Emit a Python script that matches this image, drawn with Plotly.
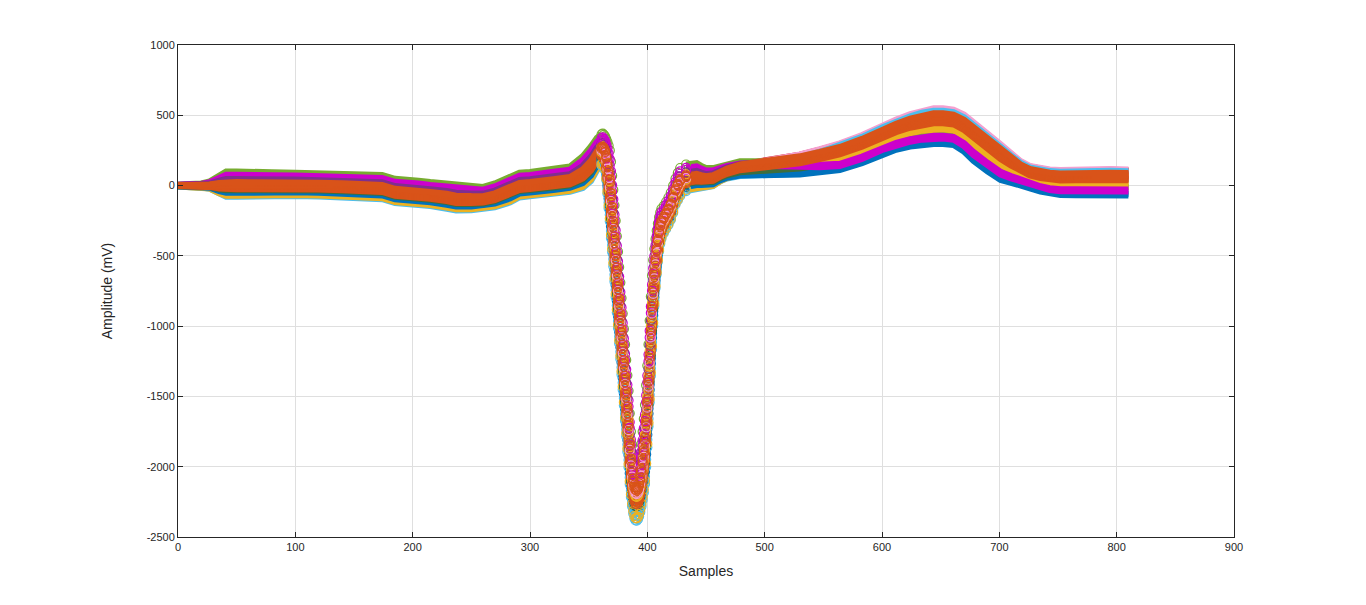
import plotly.graph_objects as go

# Anchor sample positions and the read upper / lower envelopes of the beat band (mV)
SAMPLES = [0, 10, 20, 27, 35, 41, 50, 60, 80, 100, 120, 140, 160, 174, 185, 195, 205, 215, 229, 237,
           250, 260, 270, 283, 291, 300, 308, 320, 334, 345, 352, 357,
           361, 362, 363, 364, 365, 366, 367, 368, 369, 370, 371, 372, 373, 374, 375, 376, 377, 378,
           379, 380, 381, 382, 383, 384, 385, 386, 387, 388, 389, 390, 391, 392, 393, 394, 395, 396,
           397, 398, 399, 400, 401, 402, 403, 404, 405, 406, 407, 408, 409, 410, 411, 412, 414, 416,
           418, 420, 422, 424, 426, 428,
           433, 438, 442, 446, 450, 456, 462, 468, 479, 490, 500, 513, 530, 547, 564, 583, 601, 612,
           624, 634, 644, 652, 661, 670, 678, 690, 701, 710, 718, 726, 735, 743, 752, 765, 780, 795, 810]
UPPER = [8, 10, 15, 30, 75, 100, 100, 95, 95, 92, 88, 85, 80, 75, 48, 45, 35, 25, 16, 2,
         -5, -10, 15, 63, 92, 97, 110, 120, 135, 210, 280, 340,
         365, 370, 360, 350, 330, 310, 285, 250, 170, 70, -30, -140, -250, -360, -470, -580, -690, -800,
         -910, -1020, -1130, -1240, -1350, -1460, -1620, -1750, -1845, -1915, -1960, -1985, -1995, -1985, -1955, -1905, -1835, -1750,
         -1660, -1560, -1420, -1280, -1130, -960, -790, -640, -530, -450, -380, -320, -270, -225, -190, -165, -145, -115,
         -85, -50, 0, 50, 90, 125,
         150, 160, 160, 140, 125, 130, 150, 170, 200, 212, 220, 230, 245, 270, 301, 360, 431, 470,
         509, 535, 550, 550, 540, 505, 455, 370, 295, 230, 175, 140, 123, 115, 111, 115, 120, 118, 115]
LOWER = [-8, -10, -15, -25, -65, -85, -85, -82, -80, -79, -82, -88, -95, -102, -130, -138, -140, -150, -170, -182,
         -180, -173, -160, -126, -90, -82, -72, -65, -50, -25, 25, 100,
         135, 140, 125, 100, 30, -70, -175, -270, -390, -490, -590, -700, -810, -920, -1030, -1140, -1250, -1360,
         -1470, -1580, -1690, -1800, -1910, -2020, -2140, -2230, -2295, -2345, -2380, -2395, -2395, -2385, -2365, -2335, -2295, -2250,
         -2200, -2140, -2020, -1880, -1730, -1560, -1370, -1180, -1010, -870, -740, -640, -550, -475, -420, -385, -345, -315,
         -285, -250, -200, -140, -110, -80,
         -45, -35, -31, -25, -20, -15, 15, 35, 52, 55, 55, 70, 70, 90, 111, 160, 225, 255,
         277, 290, 296, 296, 289, 240, 175, 100, 40, 20, 4, -20, -43, -58, -67, -68, -67, -68, -70]

# Beats (in drawing order): colour and relative position inside the band before / after the QRS complex
BEAT_COLORS = ["#D01010", "#A2142F", "#F4A0D0", "#A0A0A0", "#4DBEEE", "#4DBEEE", "#EDB120", "#0072BD",
               "#0072BD", "#3D6E3D", "#77AC30", "#EDB120", "#EDB120", "#CC00CC", "#CC00CC", "#7E2F8E",
               "#D95319", "#D95319", "#D95319", "#D95319", "#D95319", "#D95319", "#D95319", "#D95319"]
POS_EARLY = [0.55, 0.50, 0.50, 0.40, 0.03, 0.12, 0.07, 0.18, 0.24, 0.28, 1.00, 0.64, 0.45, 0.88, 0.80, 0.71,
             0.32, 0.36, 0.40, 0.44, 0.48, 0.52, 0.56, 0.60]
POS_LATE = [0.97, 0.94, 1.00, 0.90, 0.93, 0.06, 0.45, 0.00, 0.06, 0.30, 0.33, 0.41, 0.50, 0.23, 0.15, 0.62,
            0.58, 0.62, 0.66, 0.70, 0.74, 0.78, 0.82, 0.86]
# drawing order of the individual circles inside the QRS complex (beat indices)
QRS_ORDER = [7, 8, 4, 5, 9, 3, 6, 0, 16, 10, 17, 13, 18, 11, 1, 19, 15, 20, 12, 21, 14, 2, 22, 23]
MIX_START, MIX_END = 450, 560
QRS_START, QRS_END = 361, 433

X_TICKS = [0, 100, 200, 300, 400, 500, 600, 700, 800, 900]
Y_TICKS = [-2500, -2000, -1500, -1000, -500, 0, 500, 1000]
Y_TICK_TEXT = ["-2500", "-2000", "-1500", "-1000", "-500", "0", "500", "1000"]

fig = go.Figure()
beats = []
for color, fe, fl in zip(BEAT_COLORS, POS_EARLY, POS_LATE):
    ys = []
    for s, up, lo in zip(SAMPLES, UPPER, LOWER):
        w = min(max((s - MIX_START) / (MIX_END - MIX_START), 0.0), 1.0)
        f = fe * (1 - w) + fl * w
        ys.append(lo + f * (up - lo))
    beats.append((color, ys))

# smooth parts of the beats: dense markers merge into thick bands
for color, ys in beats:
    for lo_s, hi_s in ((0, QRS_START), (QRS_END, SAMPLES[-1])):
        xs = [s for s in SAMPLES if lo_s <= s <= hi_s]
        yv = [y for s, y in zip(SAMPLES, ys) if lo_s <= s <= hi_s]
        fig.add_trace(go.Scatter(x=xs, y=yv, mode="lines",
                                 line=dict(color=color, width=6),
                                 showlegend=False, hoverinfo="skip"))

# QRS part: the individual circle markers are visible
for k in QRS_ORDER:
    color, ys = beats[k]
    xs = [s for s in SAMPLES if QRS_START <= s <= QRS_END]
    yv = [y for s, y in zip(SAMPLES, ys) if QRS_START <= s <= QRS_END]
    fig.add_trace(go.Scatter(x=xs, y=yv, mode="markers",
                             marker=dict(symbol="circle-open", size=9, color=color,
                                         line=dict(width=1.2, color=color)),
                             showlegend=False, hoverinfo="skip"))

font_family = "Liberation Sans, Arial, sans-serif"
axis_common = dict(
    showline=True, linecolor="#262626", linewidth=1, mirror="ticks",
    ticks="inside", ticklen=5, tickcolor="#262626",
    showgrid=True, gridcolor="#DFDFDF", gridwidth=1, zeroline=False,
    tickfont=dict(family=font_family, size=11, color="#262626"),
)
fig.update_xaxes(range=[0, 900], tickvals=X_TICKS, **axis_common,
                 title=dict(text="Samples", standoff=13,
                            font=dict(family=font_family, size=14, color="#262626")))
fig.update_yaxes(range=[-2500, 1000], tickvals=Y_TICKS, ticktext=Y_TICK_TEXT, **axis_common,
                 title=dict(text="Amplitude (mV)", standoff=30,
                            font=dict(family=font_family, size=14, color="#262626")))
fig.update_layout(
    width=1366, height=605,
    margin=dict(l=178, r=132, t=45, b=68, autoexpand=False),
    paper_bgcolor="white", plot_bgcolor="white",
)
fig.write_html("out.html")
